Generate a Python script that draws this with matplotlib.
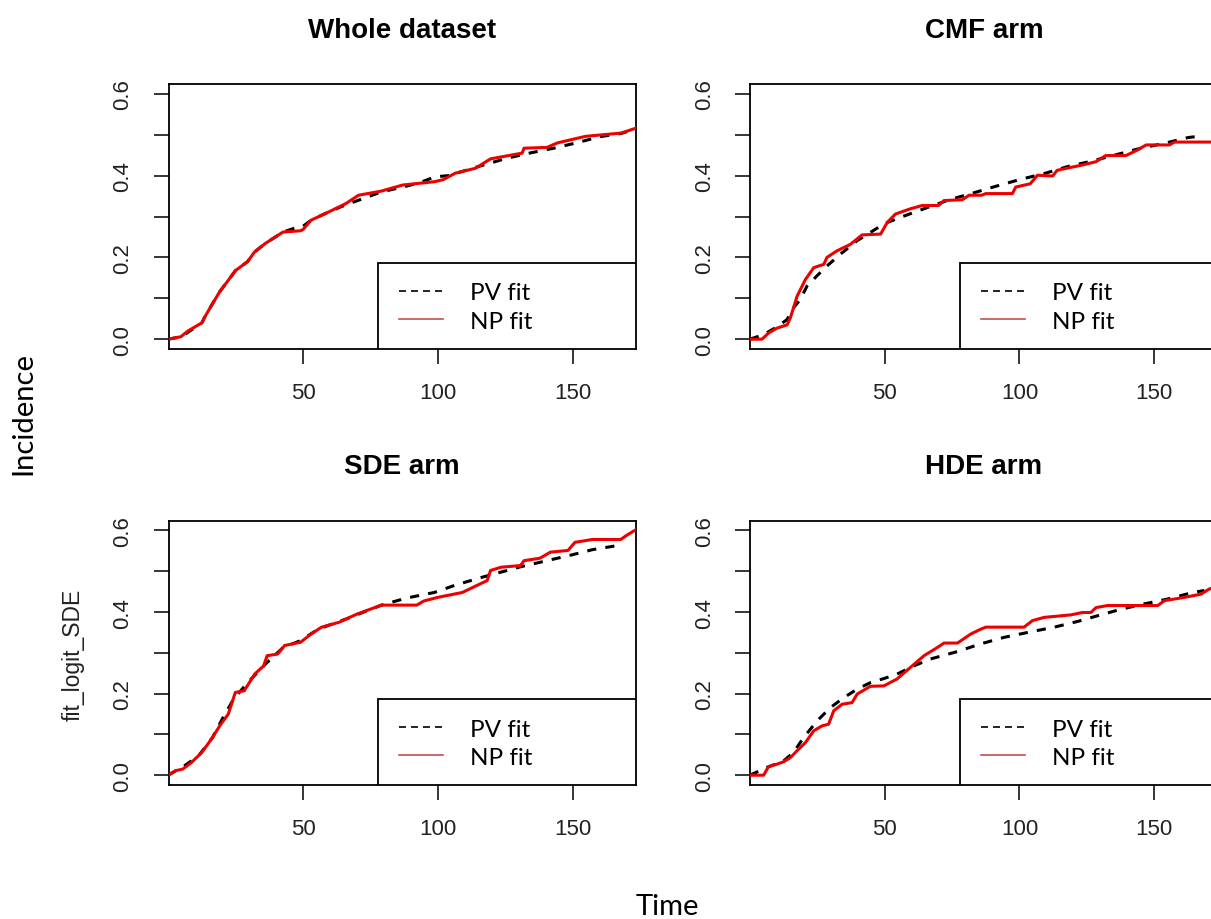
import numpy as np
import matplotlib
matplotlib.use("Agg")
import matplotlib.pyplot as plt
from matplotlib.patches import Rectangle

plt.rcParams['font.family'] = ['Liberation Sans', 'DejaVu Sans']

# ---- data (time, incidence) ----
titles = ["Whole dataset", "CMF arm", "SDE arm", "HDE arm"]

whole_np_t = [0, 4.7, 7.3, 12.5, 13.8, 19, 25, 29.5, 32, 36, 42.6, 49, 50, 53, 59.5, 66, 70.6, 79, 87,
              98.7, 102, 106.5, 114, 119.6, 131.3, 132, 140.5, 144.4, 154.8, 168, 173.5]
whole_np_y = [0, 0.006, 0.02, 0.04, 0.057, 0.115, 0.168, 0.19, 0.213, 0.234, 0.262, 0.265, 0.268, 0.291, 0.311,
              0.332, 0.352, 0.362, 0.377, 0.385, 0.39, 0.406, 0.418, 0.441, 0.455, 0.467, 0.469, 0.48, 0.496,
              0.504, 0.516]
whole_pv_t = [0, 5, 8, 12.5, 14, 19, 25, 29.5, 32, 36, 42.6, 48, 50, 53, 59.5, 66, 72, 79, 87, 93,
              99, 104, 110, 118, 126, 134, 143, 152, 160, 168, 173.5]
whole_pv_y = [0, 0.006, 0.02, 0.04, 0.06, 0.115, 0.168, 0.19, 0.213, 0.234, 0.262, 0.274, 0.276, 0.291, 0.311,
              0.329, 0.343, 0.36, 0.372, 0.382, 0.397, 0.4, 0.412, 0.428, 0.443, 0.455, 0.467, 0.481, 0.495,
              0.503, 0.514]

cmf_np_t = [0, 4.5, 6.9, 10, 13.8, 15, 17.5, 20.6, 23.7, 27.4, 28.6, 32.3, 37.3, 41.6, 48.5, 51, 54, 59.6, 64,
            70, 72, 78.8, 81.3, 86, 87.5, 97.4, 98.6, 104, 106.7, 112.3, 114, 119, 123.4, 128.4, 132, 139.5,
            143.9, 147, 155.6, 157.5, 173.5]
cmf_np_y = [0, 0, 0.015, 0.027, 0.035, 0.052, 0.105, 0.146, 0.175, 0.183, 0.2, 0.216, 0.232, 0.255, 0.257,
            0.286, 0.306, 0.319, 0.327, 0.327, 0.339, 0.341, 0.352, 0.352, 0.356, 0.356, 0.372, 0.38, 0.401,
            0.399, 0.413, 0.42, 0.426, 0.434, 0.449, 0.449, 0.463, 0.475, 0.475, 0.482, 0.482]
cmf_pv_t = [0, 5, 10, 13.8, 15.6, 18.7, 21.2, 24.9, 28.6, 33.6, 39.8, 44.7, 49.7, 55.9, 64.6, 74.5, 83.1,
            91.8, 100.5, 109.2, 117.8, 126.5, 136.4, 145, 153.8, 162.5, 165]
cmf_pv_y = [0, 0.011, 0.03, 0.048, 0.072, 0.097, 0.13, 0.155, 0.179, 0.208, 0.241, 0.261, 0.282, 0.298,
            0.319, 0.342, 0.358, 0.375, 0.391, 0.405, 0.422, 0.435, 0.452, 0.467, 0.479, 0.493, 0.495]

sde_np_t = [0, 2.7, 5.4, 8.6, 12.5, 16.4, 19.1, 22.3, 24.9, 28.2, 32.1, 35.4, 36.7, 40.6, 43.2, 49.1, 53,
            56.9, 63.4, 70, 79.1, 92.2, 94.8, 100, 109.1, 115.7, 118.3, 119.6, 123.5, 130.7, 132, 137.9,
            141.8, 148.3, 150.9, 157.4, 167.9, 169.8, 173.5]
sde_np_y = [0, 0.011, 0.015, 0.031, 0.056, 0.092, 0.121, 0.15, 0.203, 0.207, 0.248, 0.268, 0.293, 0.297,
            0.318, 0.326, 0.346, 0.363, 0.375, 0.395, 0.417, 0.417, 0.427, 0.436, 0.448, 0.469, 0.477, 0.502,
            0.51, 0.514, 0.526, 0.532, 0.547, 0.551, 0.571, 0.578, 0.578, 0.587, 0.602]
sde_pv_t = [0, 6, 11.2, 16.4, 20.4, 24.3, 29.5, 36, 42.6, 49.1, 55.6, 66, 79.1, 88.2, 98.7, 106.5, 115.7,
            123.5, 131.3, 140.5, 149.6, 157.4, 166.6, 168]
sde_pv_y = [0, 0.023, 0.047, 0.092, 0.142, 0.187, 0.227, 0.272, 0.313, 0.33, 0.358, 0.383, 0.417, 0.434,
            0.448, 0.466, 0.484, 0.498, 0.512, 0.526, 0.54, 0.553, 0.563, 0.563]

hde_np_t = [0, 5.1, 6.9, 10, 12.5, 15, 17.5, 20.6, 23.7, 26.8, 29.2, 31.1, 34.2, 37.9, 39.8, 44.7, 49.7,
            54.6, 60.2, 64.6, 69.5, 72, 77, 81.9, 85.6, 87.5, 101.7, 104.8, 109.2, 119, 123.4, 126.5, 128.4,
            132.7, 151.3, 153.8, 161.2, 167.4, 170.5, 173.5]
hde_np_y = [0, 0, 0.021, 0.027, 0.033, 0.043, 0.06, 0.08, 0.109, 0.121, 0.125, 0.158, 0.174, 0.178, 0.199,
            0.218, 0.219, 0.236, 0.268, 0.293, 0.313, 0.324, 0.324, 0.346, 0.358, 0.363, 0.363, 0.379, 0.387,
            0.393, 0.399, 0.399, 0.411, 0.416, 0.416, 0.428, 0.436, 0.444, 0.457, 0.46]
hde_pv_t = [0, 6.3, 12.5, 16.2, 19.9, 24.9, 29.9, 34.8, 39.8, 44.7, 49.7, 54.6, 60.8, 67, 76.9, 85.6, 94.3,
            103, 112.9, 121.6, 129, 137.7, 146.3, 155, 163.7, 168.6]
hde_pv_y = [0, 0.019, 0.035, 0.056, 0.092, 0.133, 0.166, 0.19, 0.211, 0.227, 0.237, 0.248, 0.268, 0.285,
            0.303, 0.322, 0.338, 0.35, 0.363, 0.377, 0.391, 0.407, 0.42, 0.432, 0.447, 0.453]

pv_t = [whole_pv_t, cmf_pv_t, sde_pv_t, hde_pv_t]
pv_y = [whole_pv_y, cmf_pv_y, sde_pv_y, hde_pv_y]
np_t = [whole_np_t, cmf_np_t, sde_np_t, hde_np_t]
np_y = [whole_np_y, cmf_np_y, sde_np_y, hde_np_y]

y_ticks = [0.0, 0.1, 0.2, 0.3, 0.4, 0.5, 0.6]
y_ticklabels = ["0.0", "", "0.2", "", "0.4", "", "0.6"]
x_ticks = [50, 100, 150]

W, H = 1211, 920
fig = plt.figure(figsize=(W / 100, H / 100), dpi=100)

# axes boxes in pixels: left, top, width, height
boxes = [(168.6, 85, 467.3, 265), (750.3, 85, 467.3, 265),
         (168.6, 521.7, 467.3, 264.3), (750.3, 521.7, 467.3, 264.3)]

for i, (l, t, w, h) in enumerate(boxes):
    ax = fig.add_axes([l / W, 1 - (t + h) / H, w / W, h / H])
    ax.plot(pv_t[i], pv_y[i], color='black', lw=2.2, dashes=(3, 3), label='PV fit', zorder=2)
    ax.plot(np_t[i], np_y[i], color='#ee0000', lw=2.2, label='NP fit', zorder=3)
    ax.set_xlim(0.15, 173.5)
    ax.set_ylim(-0.024, 0.624)
    ax.set_xticks(x_ticks)
    ax.set_yticks(y_ticks)
    ax.set_yticklabels(y_ticklabels)
    ax.tick_params(axis='both', length=10.5, width=1.1, labelsize=16, color='black', labelcolor='#222222')
    ax.tick_params(axis='x', pad=13)
    ax.tick_params(axis='y', pad=15, labelrotation=90)
    for lab in ax.get_yticklabels():
        lab.set_va('center')
    for s in ax.spines.values():
        s.set_linewidth(1.3)
        s.set_color('black')
    ax.set_title(titles[i], fontsize=20, fontweight='bold', pad=34)

    # legend box in the lower right corner
    top = 0.326
    ax.add_patch(Rectangle((0.449, 0), 1 - 0.449, top, transform=ax.transAxes, facecolor='white',
                           edgecolor='black', lw=1.3, zorder=4))
    leg = ax.legend(loc='upper left', bbox_to_anchor=(0.494, top - 0.075), frameon=False,
                    borderpad=0, borderaxespad=0, handlelength=1.8, handletextpad=1.1,
                    labelspacing=0.3, prop={'family': 'Lato', 'size': 17.5})
    leg.set_zorder(5)
    hl = leg.get_lines()
    hl[0].set_linewidth(1.2)
    hl[0].set_dashes((4.2, 3))
    hl[1].set_linewidth(1.2)
    hl[1].set_color('#c0504d')

fig.text(23 / W, 1 - 414 / H, "Incidence", rotation=90, ha='center', va='center',
         fontsize=21, family='Lato')
fig.text(667 / W, 1 - 915 / H, "Time", ha='center', va='baseline', fontsize=21, family='Lato')
fig.text(73 / W, 1 - 655 / H, "fit_logit_SDE", rotation=90, ha='center', va='center',
         fontsize=16.5, color='#222222')

fig.savefig("out.png", dpi=100, facecolor='white')
